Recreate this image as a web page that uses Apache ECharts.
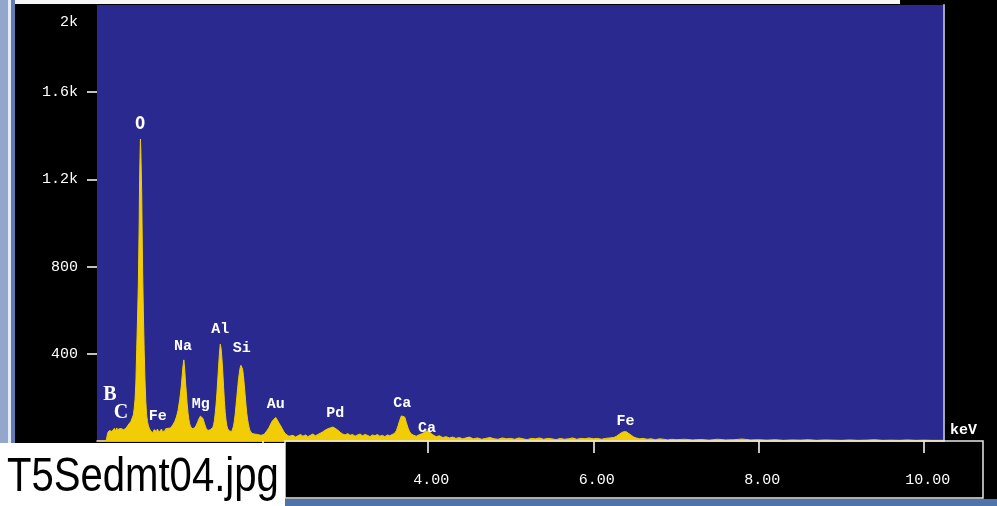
<!DOCTYPE html>
<html><head><meta charset="utf-8">
<script src="https://cdn.jsdelivr.net/npm/echarts@6/dist/echarts.min.js"></script>
<style>html,body{margin:0;padding:0;background:#000;}#c{width:997px;height:506px;}</style>
</head><body><div id="c"></div>
<script>
// Spectrum (energy in keV, counts)
const energyKeV = [
 0,0.11,0.12,0.13,0.14,0.15,0.16,0.17,0.18,0.19,0.20,0.21,0.22,0.23,0.24,0.25,0.26,0.27,0.28,0.29,
 0.30,0.31,0.32,0.33,0.34,0.35,0.36,0.37,0.38,0.39,0.40,0.41,0.42,0.43,0.44,0.45,0.46,0.47,0.48,0.49,
 0.50,0.51,0.515,0.52,0.525,0.53,0.54,0.55,0.56,0.57,0.58,0.59,0.60,0.61,0.62,0.63,0.64,
 0.65,0.66,0.67,0.68,0.69,0.70,0.71,0.72,0.73,0.74,0.75,0.76,0.77,0.78,0.79,0.80,0.81,0.82,0.83,0.84,
 0.85,0.86,0.87,0.88,0.89,0.90,0.91,0.92,0.93,0.94,0.95,0.96,0.97,0.98,0.99,1.00,1.01,1.02,1.03,1.04,
 1.05,1.06,1.07,1.08,1.09,1.10,1.11,1.12,1.13,1.14,1.15,1.16,1.17,1.18,1.19,1.20,1.21,1.22,1.23,1.24,
 1.25,1.26,1.27,1.28,1.29,1.30,1.31,1.32,1.33,1.34,1.35,1.36,1.37,1.38,1.39,1.40,1.41,1.42,1.43,1.44,
 1.45,1.46,1.47,1.48,1.49,1.50,1.51,1.52,1.53,1.54,1.55,1.56,1.57,1.58,1.59,1.60,1.61,1.62,1.63,1.64,
 1.65,1.66,1.67,1.68,1.69,1.70,1.71,1.72,1.73,1.74,1.75,1.76,1.77,1.78,1.79,1.80,1.81,1.82,1.83,1.84,
 1.85,1.86,1.87,1.88,1.90,1.92,1.94,1.96,1.98,2.00,2.02,2.04,2.06,2.08,2.10,2.12,2.14,2.16,2.18,2.20,
 2.22,2.24,2.26,2.28,2.30,2.32,2.34,2.37,2.40,2.43,2.46,2.49,2.52,2.55,2.58,2.61,2.64,2.67,2.70,2.73,
 2.76,2.79,2.82,2.85,2.88,2.91,2.94,2.97,3.00,3.03,3.06,3.09,3.12,3.15,3.18,3.21,3.24,3.27,3.30,3.33,
 3.36,3.39,3.42,3.45,3.48,3.51,3.54,3.57,3.60,3.62,3.64,3.66,3.68,3.70,3.72,3.74,3.76,3.78,3.80,3.83,
 3.86,3.89,3.92,3.95,3.98,4.01,4.04,4.07,4.10,4.14,4.18,4.22,4.26,4.30,4.34,4.38,4.42,4.46,4.50,4.55,
 4.60,4.65,4.70,4.75,4.80,4.85,4.90,4.95,5.00,5.05,5.10,5.15,5.20,5.25,5.30,5.35,5.40,5.45,5.50,5.55,
 5.60,5.65,5.70,5.75,5.80,5.85,5.90,5.95,6.00,6.05,6.10,6.15,6.20,6.25,6.28,6.31,6.34,6.37,6.40,6.43,
 6.46,6.49,6.52,6.56,6.60,6.65,6.70,6.75,6.80,6.85,6.90,6.95,7.00,7.10,7.20,7.30,7.40,7.50,7.60,7.70,
 7.80,7.90,8.00,8.10,8.20,8.30,8.40,8.50,8.60,8.70,8.80,8.90,9.00,9.10,9.20,9.30,9.40,9.50,9.60,9.70,
 9.80,9.90,10.00,10.10,10.24
];
const counts = [
 0,0,20,38,30,48,42,55,44,52,40,58,46,50,60,45,55,62,48,57,
 50,60,52,56,48,58,62,70,66,80,75,90,85,110,120,150,190,270,420,560,
 720,1000,1200,1300,1385,1330,1150,820,600,420,280,180,120,90,72,60,52,
 45,50,42,38,52,58,46,44,55,50,40,36,48,55,44,50,42,46,56,52,
 48,58,54,62,60,68,66,76,80,90,98,110,125,140,165,190,220,255,300,345,
 372,330,270,220,170,130,100,80,68,60,56,52,55,60,64,72,80,90,100,108,
 114,116,112,104,92,80,68,58,52,48,50,46,52,48,55,62,75,95,130,170,
 220,280,340,400,444,425,380,320,250,185,130,95,70,56,50,46,42,40,44,52,
 68,90,120,160,200,240,280,310,335,347,345,330,300,260,215,170,130,100,78,60,
 48,40,36,34,32,28,30,24,26,22,30,38,50,62,78,92,100,108,96,82,
 70,56,42,32,26,22,20,26,18,24,30,22,28,20,26,32,24,30,36,42,
 50,56,60,64,58,50,40,32,28,34,26,30,22,28,32,24,30,26,20,28,
 24,30,22,26,20,28,24,30,36,48,70,95,115,124,110,85,60,42,32,26,
 22,28,32,38,45,46,34,26,20,24,16,20,14,18,12,16,10,14,18,10,
 14,8,12,16,10,8,14,10,12,8,14,10,6,12,10,14,8,12,10,6,
 12,8,10,14,8,12,10,14,10,12,8,12,14,16,22,30,38,43,42,34,
 26,18,14,10,12,8,10,6,10,8,5,8,6,8,5,7,4,8,5,6,
 9,5,6,4,6,3,5,4,6,3,5,4,3,5,3,4,6,3,4,3,
 5,3,4,3,3
];
// Axis ticks / labels
const yTickValues = [400, 800, 1200, 1600];
const yLabelValues = [400, 800, 1200, 1600, 2000];
const xTickValues = [2, 4, 6, 8, 10];
const xLabelValues = [4, 6, 8, 10];
// Peak labels (element, energy keV, label height in counts)
const peakNames = ['B', 'C', 'O', 'Fe', 'Na', 'Mg', 'Al', 'Si', 'Au', 'Pd', 'Ca', 'Ca', 'Fe'];
const peakLabelKeV = [0.155, 0.29, 0.52, 0.735, 1.04, 1.255, 1.49, 1.75, 2.16, 2.88, 3.69, 3.99, 6.39];
const peakLabelCounts = [211, 128, 1450, 115, 436, 170, 514, 427, 170, 128, 174, 60, 92];
const fileName = 'T5Sedmt04.jpg';
const unitName = 'keV';

const spectrum = energyKeV.map((e, i) => [e, counts[i]]);
const labelData = peakNames.map((n, i) => {
  const item = { name: n, value: [peakLabelKeV[i], peakLabelCounts[i]] };
  if (n === 'B' || n === 'C') item.label = { fontFamily: 'Liberation Serif', fontSize: 20, fontWeight: 'bold' };
  if (n === 'O') item.label = { fontFamily: 'DejaVu Sans Mono', fontSize: 17, fontWeight: 'bold' };
  return item;
});

const chart = echarts.init(document.getElementById('c'), null, { renderer: 'canvas' });
const yellow = '#f2cd06';
const monoFont = 'Liberation Mono';
chart.setOption({
  backgroundColor: '#000000',
  animation: false,
  grid: { left: 97, right: 53, top: 5, bottom: 65, show: true, backgroundColor: '#29298f', borderWidth: 0 },
  xAxis: {
    type: 'value', min: 0, max: 10.24, interval: 2,
    name: unitName, nameLocation: 'end', nameGap: 6,
    nameTextStyle: { color: '#ffffff', fontFamily: monoFont, fontWeight: 'bold', fontSize: 15, verticalAlign: 'bottom', padding: [0, 0, 3, 0] },
    axisLine: { show: true, lineStyle: { color: '#e8e8e8', width: 1.5 } },
    axisTick: { show: true, length: 12, inside: false, customValues: xTickValues, lineStyle: { color: '#ffffff', width: 1.5 } },
    axisLabel: { customValues: xLabelValues, margin: 32, color: '#ffffff', fontFamily: monoFont, fontSize: 15, padding: [0, 0, 0, 7], formatter: v => v.toFixed(2) },
    splitLine: { show: false }
  },
  yAxis: [{
    type: 'value', min: 0, max: 2000, interval: 400,
    axisLine: { show: false },
    axisTick: { show: true, length: 10, inside: false, customValues: yTickValues, lineStyle: { color: '#ffffff', width: 1.5 } },
    axisLabel: {
      customValues: yLabelValues, margin: 19, color: '#ffffff', fontFamily: monoFont, fontSize: 15,
      formatter: v => v === 2000 ? '{top|2k}' : (v >= 1000 ? (v / 1000) + 'k' : String(v)),
      rich: { top: { padding: [34, 0, 0, 0], color: '#ffffff', fontFamily: monoFont, fontSize: 15 } }
    },
    splitLine: { show: false }
  }, {
    type: 'value', min: 0, max: 2000, position: 'right',
    axisLine: { show: true, lineStyle: { color: '#a2a6bc', width: 2 } },
    axisTick: { show: false }, axisLabel: { show: false }, splitLine: { show: false }
  }],
  series: [{
    type: 'line', data: spectrum, showSymbol: false, symbol: 'none', sampling: 'none',
    lineStyle: { color: yellow, width: 1 },
    areaStyle: { color: yellow, opacity: 1 },
    z: 2
  }, {
    type: 'scatter', data: labelData, symbolSize: 1, itemStyle: { color: 'rgba(0,0,0,0)', opacity: 1 },
    label: { show: true, position: 'inside', formatter: '{b}', color: '#ffffff', opacity: 1, fontFamily: monoFont, fontWeight: 'bold', fontSize: 15 },
    z: 5
  }],
  graphic: [
    { type: 'rect', z: 50, shape: { x: 0, y: 0, width: 900, height: 4 }, style: { fill: '#f6f6f6' } },
    { type: 'rect', z: 50, shape: { x: 0, y: 0, width: 8, height: 443 }, style: { fill: '#93a6cc' } },
    { type: 'rect', z: 50, shape: { x: 8, y: 0, width: 3, height: 443 }, style: { fill: '#e6ebf5' } },
    { type: 'rect', z: 50, shape: { x: 11, y: 0, width: 4, height: 443 }, style: { fill: '#5f7cb4' } },
    { type: 'rect', z: 50, shape: { x: 285, y: 441, width: 698, height: 57 }, style: { fill: 'none', stroke: '#e8e8e8', lineWidth: 1.5 } },
    { type: 'rect', z: 50, shape: { x: 0, y: 499, width: 997, height: 7 }, style: { fill: '#4e73ad' } },
    { type: 'rect', z: 100, shape: { x: 0, y: 443, width: 285, height: 63 }, style: { fill: '#ffffff' } },
    { type: 'text', z: 101, x: 7, y: 478, scaleX: 0.835, style: { text: fileName, x: 0, y: 0, fill: '#000000', font: '48px "Liberation Sans"', verticalAlign: 'middle', align: 'left' } }
  ]
});
</script>
</body></html>
